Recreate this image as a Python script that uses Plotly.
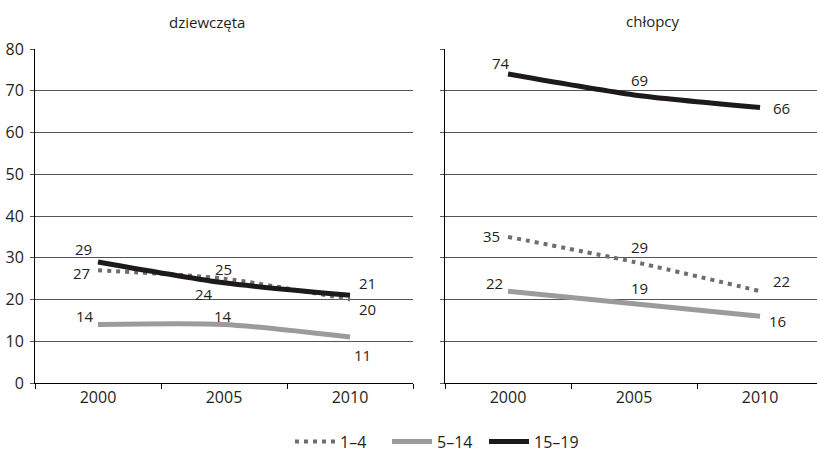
import plotly.graph_objects as go

years = ["2000", "2005", "2010"]
series_names = ["1–4", "5–14", "15–19"]
girls_1_4 = [27, 25, 20]
girls_5_14 = [14, 14, 11]
girls_15_19 = [29, 24, 21]
boys_1_4 = [35, 29, 22]
boys_5_14 = [22, 19, 16]
boys_15_19 = [74, 69, 66]
panel_titles = ["dziewczęta", "chłopcy"]
y_ticks = [0, 10, 20, 30, 40, 50, 60, 70, 80]

FONT = "Open Sans"
TXT = "#231f20"
styles = {
    "1–4": dict(color="#6e6e6e", width=4, dash="4px,5px"),
    "5–14": dict(color="#9b9b9b", width=5),
    "15–19": dict(color="#1e1a1b", width=5),
}

# label offsets (xshift, yshift) in pixels per panel / series / point
offsets = {
    ("g", "1–4"): [(-17, -3), (-1, 10), (17, -9)],
    ("g", "15–19"): [(-15, 13), (-20, -11), (17, 12)],
    ("g", "5–14"): [(-13, 9), (-1, 9), (12, -18)],
    ("b", "15–19"): [(-7, 11), (5, 15), (21, -1)],
    ("b", "1–4"): [(-17, 1), (5, 15), (21, 10)],
    ("b", "5–14"): [(-14, 8), (5, 16), (17, -5)],
}

data = {
    "g": {"1–4": girls_1_4, "5–14": girls_5_14, "15–19": girls_15_19},
    "b": {"1–4": boys_1_4, "5–14": boys_5_14, "15–19": boys_15_19},
}
axes = {"g": ("x", "y"), "b": ("x2", "y2")}

fig = go.Figure()
annotations = []
for panel in ["g", "b"]:
    xa, ya = axes[panel]
    for name in series_names:
        vals = data[panel][name]
        fig.add_trace(go.Scatter(
            x=years, y=vals, name=name, mode="lines",
            line=dict(shape="spline", smoothing=0.7, **styles[name]),
            xaxis=xa, yaxis=ya, legendgroup=name,
            showlegend=(panel == "g"), hoverinfo="skip",
        ))
        for i, v in enumerate(vals):
            dx, dy = offsets[(panel, name)][i]
            annotations.append(dict(
                x=i, y=v, xref=xa, yref=ya, text=str(v),
                showarrow=False, xshift=dx, yshift=dy,
                font=dict(family=FONT, size=15, color=TXT),
            ))

W, H = 817, 459
T, B = 49, 74
PH = H - T - B
annotations.append(dict(x=207 / W, y=1 + (T - 22) / PH, xref="paper", yref="paper",
                        text=panel_titles[0], showarrow=False, xanchor="center",
                        yanchor="middle",
                        font=dict(family=FONT, size=15, color=TXT)))
annotations.append(dict(x=653 / W, y=1 + (T - 21) / PH, xref="paper", yref="paper",
                        text=panel_titles[1], showarrow=False, xanchor="center",
                        yanchor="middle",
                        font=dict(family=FONT, size=15, color=TXT)))

common_y = dict(range=[0, 80], tickvals=y_ticks, showgrid=True, gridcolor="#555555",
                gridwidth=1, zeroline=False, showline=True, linecolor="#000000",
                linewidth=1, ticks="outside", ticklen=4, tickcolor="#555555",
                ticklabelstandoff=3,
                tickfont=dict(family=FONT, size=16, color=TXT), fixedrange=True)
common_x = dict(type="category", tickson="boundaries", ticks="outside", ticklen=5,
                tickcolor="#000000", showline=True, linecolor="#000000", linewidth=1,
                showgrid=False, zeroline=False, fixedrange=True,
                tickfont=dict(family=FONT, size=16, color=TXT))

fig.update_layout(
    width=W, height=H,
    margin=dict(l=0, r=0, t=T, b=B),
    paper_bgcolor="white", plot_bgcolor="white",
    xaxis=dict(domain=[35 / W, 413 / W], range=[-0.5, 2.5], anchor="y", **common_x),
    yaxis=dict(anchor="x", **common_y),
    xaxis2=dict(domain=[445 / W, 1], range=[-0.5, 2.452], anchor="y2", **common_x),
    yaxis2=dict(anchor="x2", showticklabels=False, **common_y),
    showlegend=True,
    legend=dict(orientation="h", x=290 / W, xanchor="left", y=-(444 - 385) / PH,
                yanchor="middle", entrywidth=42, entrywidthmode="pixels",
                font=dict(family=FONT, size=16, color=TXT), itemwidth=40,
                bgcolor="rgba(0,0,0,0)"),
    annotations=annotations,
)

fig.write_html("out.html", config={"displayModeBar": False},
               post_script="document.body.style.margin='0';document.body.style.overflow='hidden';")
